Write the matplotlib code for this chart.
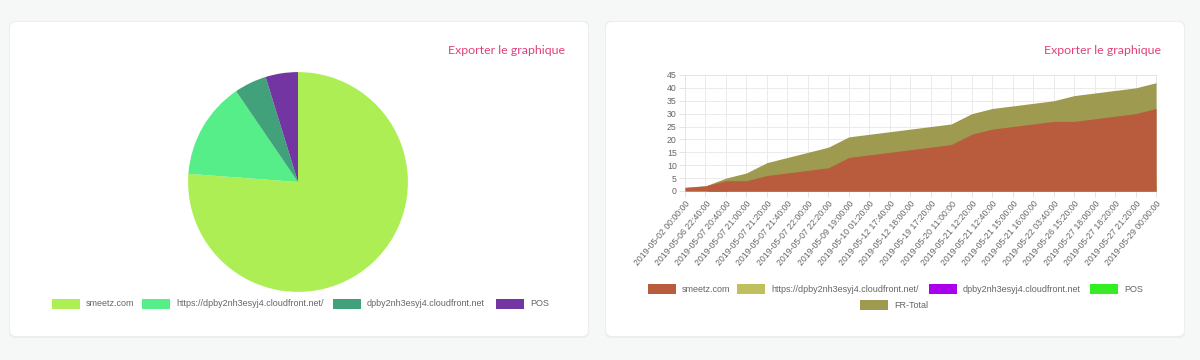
import numpy as np
import matplotlib
matplotlib.use("Agg")
import matplotlib.pyplot as plt
from matplotlib.patches import FancyBboxPatch, Rectangle

plt.rcParams['font.family'] = ['Liberation Sans', 'DejaVu Sans']

# pie data
pie_labels = ['smeetz.com', 'https://dpby2nh3esyj4.cloudfront.net/', 'dpby2nh3esyj4.cloudfront.net', 'POS']
pie_values = [32, 6, 2, 2]
pie_colors = ['#adee55', '#55ee88', '#41a17a', '#7235a1']

# area chart data
dates = ['2019-05-02 00:00:00', '2019-05-06 22:40:00', '2019-05-07 20:40:00', '2019-05-07 21:00:00',
         '2019-05-07 21:20:00', '2019-05-07 21:40:00', '2019-05-07 22:00:00', '2019-05-07 22:20:00',
         '2019-05-09 19:00:00', '2019-05-10 01:20:00', '2019-05-12 17:40:00', '2019-05-12 18:00:00',
         '2019-05-19 17:20:00', '2019-05-20 11:00:00', '2019-05-21 12:20:00', '2019-05-21 12:40:00',
         '2019-05-21 15:00:00', '2019-05-21 16:00:00', '2019-05-22 03:40:00', '2019-05-26 15:20:00',
         '2019-05-27 18:00:00', '2019-05-27 18:20:00', '2019-05-27 21:20:00', '2019-05-29 00:00:00']
smeetz = [1.3, 2, 4, 4, 6, 7, 8, 9, 13, 14, 15, 16, 17, 18, 22, 24, 25, 26, 27, 27, 28, 29, 30, 32]
https = [0, 0, 0, 2, 4, 4, 5, 6, 6, 6, 6, 6, 6, 6, 6, 6, 6, 6, 6, 6, 6, 6, 6, 6]
dpby = [0, 0, 1, 1, 1, 1, 1, 1, 1, 1, 1, 1, 1, 1, 1, 1, 1, 1, 1, 2, 2, 2, 2, 2]
pos = [0, 0, 0, 0, 0, 1, 1, 1, 1, 1, 1, 1, 1, 1, 1, 1, 1, 1, 1, 2, 2, 2, 2, 2]
fr_total = [1.5, 2, 5, 7, 11, 13, 15, 17, 21, 22, 23, 24, 25, 26, 30, 32, 33, 34, 35, 37, 38, 39, 40, 42]
area_labels = ['smeetz.com', 'https://dpby2nh3esyj4.cloudfront.net/', 'dpby2nh3esyj4.cloudfront.net', 'POS', 'FR-Total']
area_colors = ['#b95b3d', '#bfbf5e', '#aa00ee', '#33ee22', '#9e9a4f']

W, H = 1200, 360
fig = plt.figure(figsize=(12, 3.6), dpi=100)
fig.patch.set_facecolor('#f6f7f7')


def px_axes(x, y, w, h, **kw):
    return fig.add_axes([x / W, 1 - (y + h) / H, w / W, h / H], **kw)


# background layer: cards, titles, legends
bg = px_axes(0, 0, W, H, zorder=0)
bg.set_xlim(0, W)
bg.set_ylim(H, 0)
bg.axis('off')

for cx in [10, 606]:
    bg.add_patch(FancyBboxPatch((cx - 1, 21), 580, 317, boxstyle='round,pad=0,rounding_size=6',
                                facecolor='#eceeee', edgecolor='none'))
    bg.add_patch(FancyBboxPatch((cx, 22), 578, 314, boxstyle='round,pad=0,rounding_size=6',
                                facecolor='white', edgecolor='none'))

for tx in [565, 1161]:
    bg.text(tx, 50, 'Exporter le graphique', color='#e2407c', fontsize=8.9, family=['Lato', 'DejaVu Sans'],
            ha='right', va='center')


def legend_item(x, y, color, label):
    bg.add_patch(Rectangle((x, y - 5), 28, 10, facecolor=color, edgecolor='none'))
    bg.text(x + 34, y, label, fontsize=6.5, color='#666666', va='center', ha='left')


for x, c, l in zip([52, 142, 333, 496], pie_colors, pie_labels):
    legend_item(x, 304, c, l)

for x, c, l in zip([648, 737, 929, 1090], area_colors[:4], area_labels[:4]):
    legend_item(x, 289, c, l)
legend_item(860, 305, area_colors[4], area_labels[4])

# pie chart
ax1 = px_axes(187, 71, 222, 222, zorder=1)
ax1.pie(pie_values, colors=pie_colors, startangle=90, counterclock=False, radius=1,
        wedgeprops=dict(linewidth=0))
ax1.set_xlim(-1.01, 1.01)
ax1.set_ylim(-1.01, 1.01)
ax1.set_aspect('equal')

# area chart
ax2 = px_axes(685, 75, 471, 116, zorder=1)
ax2.patch.set_alpha(0)
x = np.arange(len(dates))
series = [smeetz, https, dpby, pos, fr_total]
# Chart.js draws the first dataset on top
for i in range(len(series) - 1, -1, -1):
    ax2.fill_between(x, 0, series[i], color=area_colors[i], linewidth=0, zorder=2 + (len(series) - i))

ax2.set_xlim(0, len(dates) - 1)
ax2.set_ylim(0, 45)
ax2.set_yticks(np.arange(0, 46, 5))
ax2.set_xticks(x)
ax2.set_xticklabels(dates, rotation=50, ha='right', va='top', rotation_mode='anchor')
ax2.grid(True, color='#e8e8e8', linewidth=0.6, zorder=0)
ax2.set_axisbelow(True)
for s in ax2.spines.values():
    s.set_color('#e4e4e4')
    s.set_linewidth(0.7)
ax2.tick_params(axis='both', colors='#e4e4e4', labelcolor='#666666', labelsize=6.3, length=4, width=0.7, pad=2)

fig.savefig('out.png', dpi=100, facecolor=fig.get_facecolor())
